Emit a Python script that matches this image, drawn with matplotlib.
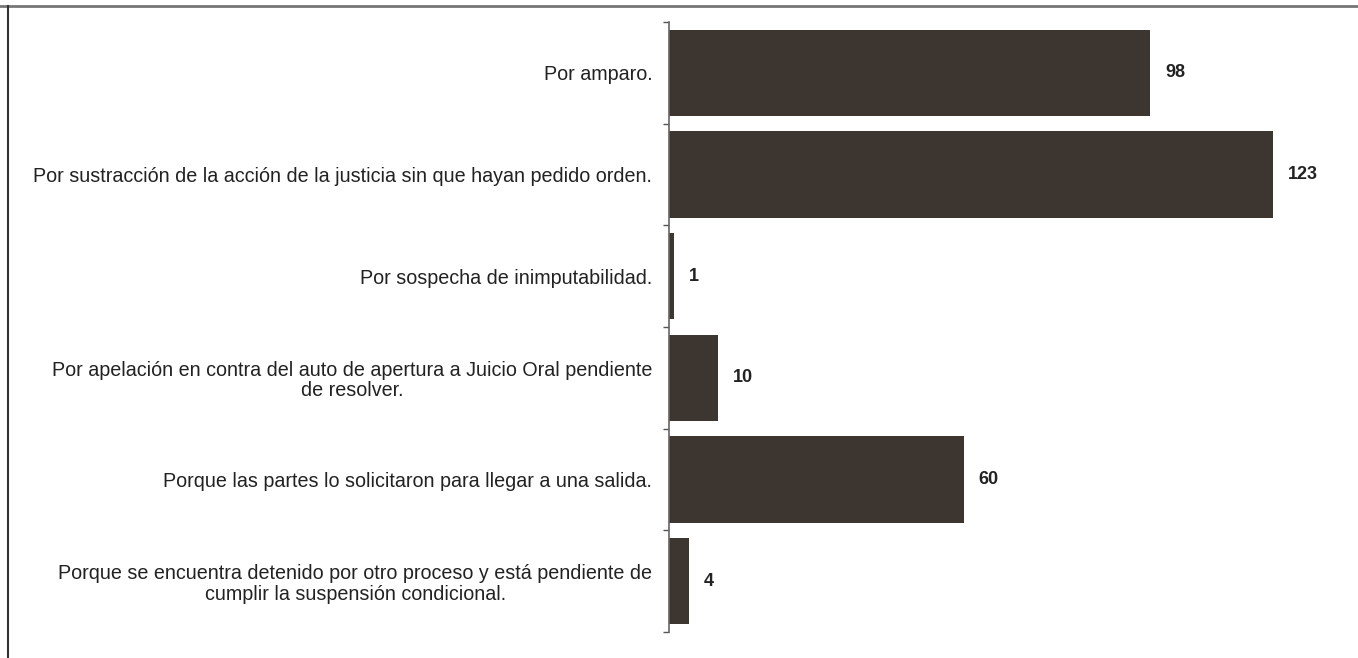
import matplotlib.pyplot as plt
import numpy as np

# data (top to bottom)
categorias = [
    "Por amparo.",
    "Por sustracción de la acción de la justicia sin que hayan pedido orden.",
    "Por sospecha de inimputabilidad.",
    "Por apelación en contra del auto de apertura a Juicio Oral pendiente\nde resolver.",
    "Porque las partes lo solicitaron para llegar a una salida.",
    "Porque se encuentra detenido por otro proceso y está pendiente de\ncumplir la suspensión condicional.",
]
valores = [98, 123, 1, 10, 60, 4]

plt.rcParams['font.family'] = ['Liberation Sans', 'DejaVu Sans']

fig = plt.figure(figsize=(13.58, 6.58), dpi=100)
ax = fig.add_axes([669 / 1358, 1 - 632 / 658, (1332 - 669) / 1358, (632 - 22) / 658])

y = np.arange(len(categorias))
barras = ax.barh(y, valores, height=0.85, color='#3d3630')

ax.set_ylim(len(categorias) - 0.5, -0.5)
ax.set_xlim(0, 135)

# category labels, right aligned next to the axis, no tick marks at the centres
ax.set_yticks(y)
ax.set_yticklabels(categorias, fontsize=14.2, color='#222222', multialignment='center',
                   linespacing=1.1)
ax.tick_params(axis='y', which='major', length=0, pad=12)

# small ticks at the category boundaries
ax.set_yticks(np.arange(-0.5, len(categorias), 1), minor=True)
ax.tick_params(axis='y', which='minor', length=4, color='#555555', width=1)

ax.set_xticks([])
for s in ['top', 'right', 'bottom']:
    ax.spines[s].set_visible(False)
ax.spines['left'].set_color('#666666')
ax.spines['left'].set_linewidth(1.2)

for b, v in zip(barras, valores):
    ax.annotate(str(v), (b.get_width(), b.get_y() + b.get_height() / 2),
                xytext=(15, 0), textcoords='offset pixels',
                va='center', ha='left', fontsize=13, fontweight='bold', color='#222222')

# outer frame lines (top and left)
fig.add_artist(plt.Line2D([0, 1], [1 - 6 / 658, 1 - 6 / 658], transform=fig.transFigure,
                          color='#777777', linewidth=2))
fig.add_artist(plt.Line2D([8 / 1358, 8 / 1358], [0, 1 - 6 / 658], transform=fig.transFigure,
                          color='#333333', linewidth=1.5))

fig.savefig('out.png', dpi=100, facecolor='white')
